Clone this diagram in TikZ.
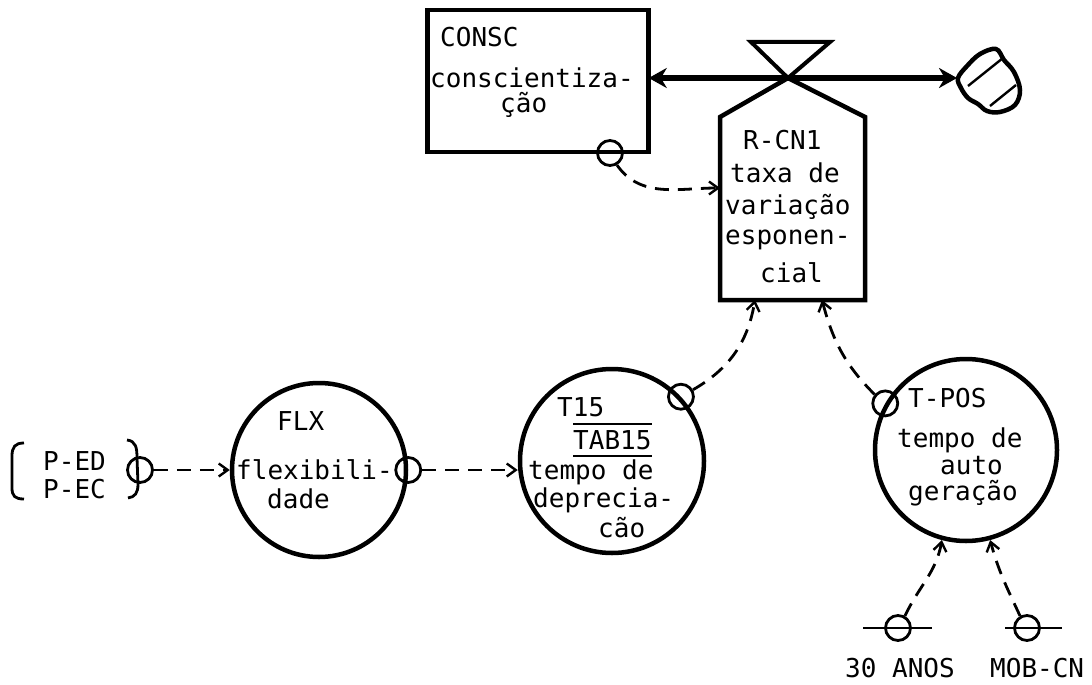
\documentclass[tikz,border=0pt]{standalone}
\usepackage{fontspec}
\setmonofont{DejaVu Sans Mono}
\usetikzlibrary{arrows.meta}
\tikzset{
  txt/.style={font=\ttfamily\fontsize{26}{30}\selectfont, inner sep=0pt, anchor=west},
  boxline/.style={draw, line width=4.5pt},
  bigc/.style={circle, draw, line width=4.5pt, inner sep=0pt},
  smallc/.style={circle, draw, line width=2.8pt, minimum size=25pt, inner sep=0pt},
  dep/.style={line width=2.8pt, dash pattern=on 14pt off 9pt, -{Straight Barb[length=9pt,width=13pt,line width=2.4pt]}},
  flowline/.style={line width=5pt, {Stealth[length=18pt,width=20pt]}-{Stealth[length=18pt,width=20pt]}},
  thinline/.style={line width=2.8pt}
}
\begin{document}
\begin{tikzpicture}[x=1pt,y=-1pt]
\useasboundingbox (0,0) rectangle (1092,685);

% ---- CONSC level box
\node[boxline, minimum width=221pt, minimum height=142pt, inner sep=0pt] (consc) at (538,81) {};
\node[txt] (conscA) at (440,37) {CONSC};
\node[txt] (conscB) at (430,78) {conscientiza-};
\node[txt] (conscC) at (500,105) {ção};
\node[smallc] (cc) at (610,153) {};

% ---- valve / rate R-CN1
\coordinate (vx) at (788,78);
\draw[line width=4.5pt, line join=miter] (720,300) -- (720,117) -- (vx) -- (865,117) -- (865,300) -- cycle;
\draw[line width=4pt, line join=miter] (vx) -- (751,42) -- (830,42) -- cycle;
\node[txt] (r1) at (743,140) {R-CN1};
\node[txt] (r2) at (730,173) {taxa de};
\node[txt] (r3) at (725,207) {variação};
\node[txt] (r4) at (725,240) {esponen-};
\node[txt] (r5) at (760,273) {cial};
\coordinate (rl) at (720,188);
\coordinate (rb1) at (755,300);
\coordinate (rb2) at (822,300);

% ---- cloud (sink)
\draw[line width=4.5pt, line join=round] plot[smooth cycle, tension=0.6] coordinates {
 (958,78) (967,66) (980,54) (996,49) (1004,60) (1014,72) (1020,90) (1015,105)
 (1000,112) (987,111) (978,104) (968,98) (961,88)};
\coordinate (cloud) at (957,78);
\draw[line width=2.4pt] (968,86) -- (1003,58);
\draw[line width=2.4pt] (990,106) -- (1016,85);

% ---- flow
\draw[flowline, shorten <=-2pt] (consc.east |- vx) -- (cloud);

% ---- FLX
\node[bigc, minimum size=174pt] (flx) at (319,470) {};
\node[txt] (flxA) at (277,421) {FLX};
\node[txt] (flxB) at (236,470) {flexibili-};
\node[txt] (flxC) at (267,499) {dade};
\node[smallc] (cflx) at (flx.east) {};

% ---- P-ED / P-EC
\node[txt] (ped) at (43,461) {P-ED};
\node[txt] (pec) at (43,489) {P-EC};
\draw[line width=2.8pt] (24,443) .. controls (15,443) and (12,447) .. (12,456) -- (12,488) .. controls (12,496) and (15,499) .. (24,499);
\draw[line width=2.8pt] (127,440) .. controls (136,441) and (137,448) .. (137,458) -- (138,484) .. controls (138,493) and (135,497) .. (128,498);
\node[smallc] (cp) at (140,470) {};

% ---- T15
\node[bigc, minimum size=184pt] (t15) at (612,461) {};
\node[txt] (t15A) at (557,407) {T15};
\node[txt] (t15B) at (573,440) {TAB15};
\draw[line width=2pt] ([yshift=6pt]t15B.north west) -- ([yshift=6pt]t15B.north east);
\draw[line width=2pt] ([yshift=-6pt]t15B.south west) -- ([yshift=-6pt]t15B.south east);
\node[txt] (t15C) at (528,472) {tempo de};
\node[txt] (t15D) at (533,500) {deprecia-};
\node[txt] (t15E) at (598,528) {cão};
\node[smallc] (ct15) at (t15.43) {};

% ---- T-POS
\node[bigc, minimum size=182pt] (tpos) at (966,450) {};
\node[txt] (tposA) at (908,398) {T-POS};
\node[txt] (tposB) at (897,440) {tempo de};
\node[txt] (tposC) at (940,466) {auto};
\node[txt] (tposD) at (908,493) {geração};
\node[smallc] (ctpos) at (tpos.150) {};

% ---- constants
\node[smallc] (c30) at (898,628) {};
\node[smallc] (cmob) at (1027,628) {};
\draw[thinline] ([xshift=-35pt]c30.center) -- ([xshift=34pt]c30.center);
\draw[thinline] ([xshift=-22pt]cmob.center) -- ([xshift=35pt]cmob.center);
\node[txt] (l30) at (845,668) {30 ANOS};
\node[txt] (lmob) at (990,668) {MOB-CN};

% ---- dependencies
\draw[dep] (cc.-60) to[out=-55,in=180] (rl);
\draw[dep] (cp.east) -- (flx.west |- cp);
\draw[dep] (cflx.east) -- (t15.west |- cflx);
\draw[dep] (ct15.30) to[out=30,in=-100] (rb1);
\draw[dep] (ctpos.140) to[out=135,in=-75] (rb2);
\draw[dep] (c30.60) to[out=65,in=-100] (tpos.-105);
\draw[dep] (cmob.120) to[out=115,in=-75] (tpos.-75);
\end{tikzpicture}
\end{document}
